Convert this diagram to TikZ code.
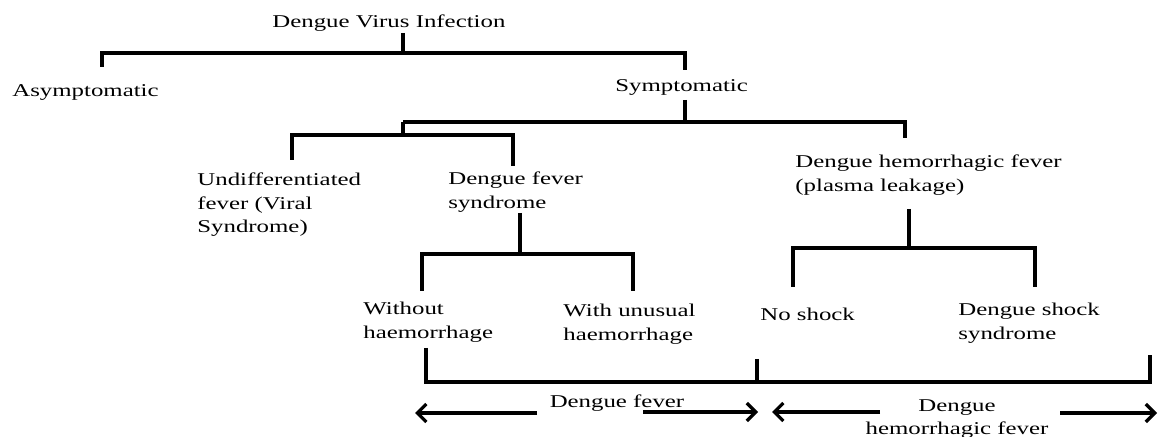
\documentclass[tikz,border=0pt]{standalone}
\usepackage{fontspec}
\setmainfont{Liberation Serif}[FakeStretch=1.38]
\usetikzlibrary{arrows.meta}
\tikzset{
  branch/.style={line width=1.6pt},
  term/.style={anchor=west, inner sep=0pt, align=left, font=\fontsize{9}{11.75}\selectfont},
  spanarrow/.style={line width=1.6pt, -{Straight Barb[length=4.5pt,width=9pt,line width=1.6pt]}}
}
\begin{document}
\begin{tikzpicture}[x=0.5pt, y=-0.5pt]
\useasboundingbox (0,0) rectangle (1160,437);
\node[term] (dvi)   at (272, 23)  {Dengue Virus Infection};
\node[term] (asym)  at (12, 92)   {Asymptomatic};
\node[term] (symp)  at (615, 87)  {Symptomatic};
\node[term] (undif) at (197, 205) {Undifferentiated\\fever (Viral\\Syndrome)};
\node[term] (dfs)   at (448, 192) {Dengue fever\\syndrome};
\node[term] (dhf)   at (795, 175) {Dengue hemorrhagic fever\\(plasma leakage)};
\node[term] (wo)    at (363, 322) {Without\\haemorrhage};
\node[term] (wu)    at (563, 324) {With unusual\\haemorrhage};
\node[term] (ns)    at (760, 314) {No shock};
\node[term] (dss)   at (958, 323) {Dengue shock\\syndrome};
\node[term, anchor=center] (dflab)  at (617, 403) {Dengue fever};
\node[term, anchor=center, align=center] (dhflab) at (957, 419) {Dengue\\hemorrhagic fever};
\coordinate (dviStem) at (403, 33);
\coordinate (dviJ)    at (403, 53);
\coordinate (asymTop) at (102, 67);
\coordinate (sympTop) at (685, 70);
\coordinate (sympStem) at (685, 100);
\coordinate (sympJ)   at (685, 122);
\coordinate (subJ)    at (403, 122);
\coordinate (subJ2)   at (403, 135);
\coordinate (dhfTop)  at (905, 138);
\coordinate (undTop)  at (292, 160);
\coordinate (dfsTop)  at (513, 166);
\coordinate (dfsStem) at (520, 213);
\coordinate (dfsJ)    at (520, 254);
\coordinate (woTop)   at (422, 291);
\coordinate (wuTop)   at (633, 291);
\coordinate (dhfStem) at (909, 209);
\coordinate (dhfJ)    at (909, 248);
\coordinate (nsTop)   at (793, 287);
\coordinate (dssTop)  at (1035, 287);
\coordinate (woLow)   at (426, 348);
\coordinate (woFoot)  at (426, 382);
\coordinate (midLow)  at (757, 359);
\coordinate (midFoot) at (757, 382);
\coordinate (endLow)  at (1150, 355);
\coordinate (endFoot) at (1150, 382);
\coordinate (dfTailL) at (537, 413);
\coordinate (dfTipL)  at (415, 413);
\coordinate (dfTailR) at (643, 412);
\coordinate (dfTipR)  at (758, 412);
\coordinate (dhTailL) at (880, 412);
\coordinate (dhTipL)  at (772, 412);
\coordinate (dhTailR) at (1060, 413);
\coordinate (dhTipR)  at (1157, 413);
\draw[branch] (dviStem) -- (dviJ);
\draw[branch] (asymTop) |- (dviJ) -| (sympTop);
\draw[branch] (sympStem) -- (sympJ);
\draw[branch] (subJ) -| (dhfTop);
\draw[branch] (subJ) -- (subJ2);
\draw[branch] (undTop) |- (subJ2) -| (dfsTop);
\draw[branch] (dfsStem) -- (dfsJ);
\draw[branch] (woTop) |- (dfsJ) -| (wuTop);
\draw[branch] (dhfStem) -- (dhfJ);
\draw[branch] (nsTop) |- (dhfJ) -| (dssTop);
\draw[branch] (woLow) -- (woFoot) -- (endFoot) -- (endLow);
\draw[branch] (midLow) -- (midFoot);
\draw[spanarrow] (dfTailL) -- (dfTipL);
\draw[spanarrow] (dfTailR) -- (dfTipR);
\draw[spanarrow] (dhTailL) -- (dhTipL);
\draw[spanarrow] (dhTailR) -- (dhTipR);
\end{tikzpicture}
\end{document}
